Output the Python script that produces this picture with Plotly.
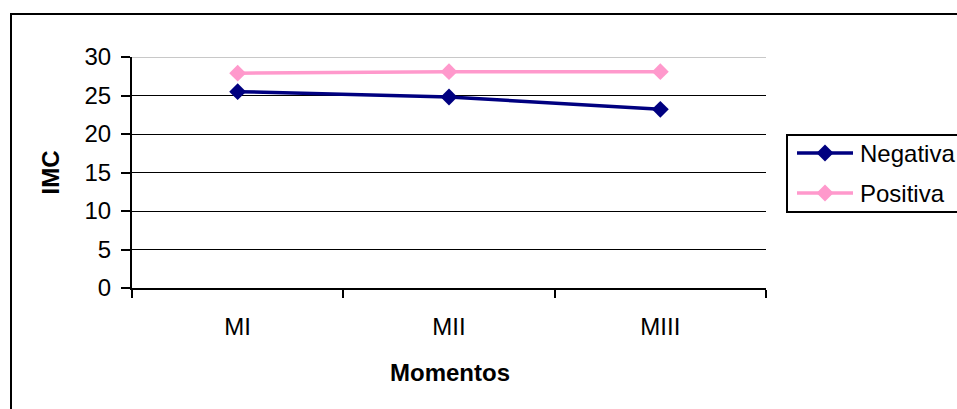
import plotly.graph_objects as go

# Body mass index (IMC) by moment, per group
momentos = ["MI", "MII", "MIII"]
negativa = [25.5, 24.8, 23.2]
positiva = [27.9, 28.1, 28.1]
series_names = ["Negativa", "Positiva"]
series_colors = ["#000080", "#FF99CC"]
y_ticks = [0, 5, 10, 15, 20, 25, 30]

W, H = 957, 409
L, R, T, B = 132, 191, 57, 121
PW, PH = W - L - R, H - T - B
FONT = "Liberation Sans, Arial, sans-serif"


def px_x(x):
    return (x - L) / PW


def px_y(y):
    return (H - B - y) / PH


fig = go.Figure()
for name, vals, col in zip(series_names, [negativa, positiva], series_colors):
    fig.add_trace(go.Scatter(
        x=momentos, y=vals, name=name, mode="lines+markers",
        line=dict(color=col, width=3.5),
        marker=dict(symbol="diamond", size=13, color=col),
        showlegend=False,
    ))

shapes = []
# outer chart frame
shapes.append(dict(type="rect", xref="paper", yref="paper",
                   x0=px_x(11), x1=px_x(962), y0=px_y(14), y1=px_y(415),
                   line=dict(color="black", width=2), fillcolor="rgba(0,0,0,0)", layer="below"))
# light top grid line at 30
shapes.append(dict(type="line", xref="paper", yref="y", x0=0, x1=1, y0=30, y1=30,
                   line=dict(color="#C8C8C8", width=2), layer="above"))

# legend box and entries
shapes.append(dict(type="rect", xref="paper", yref="paper",
                   x0=px_x(787), x1=px_x(965), y0=px_y(135), y1=px_y(212),
                   line=dict(color="black", width=2), fillcolor="white"))
annotations = []
for i, (name, col) in enumerate(zip(series_names, series_colors)):
    cy = 153 + 40 * i
    shapes.append(dict(type="line", xref="paper", yref="paper",
                       x0=px_x(797), x1=px_x(853), y0=px_y(cy), y1=px_y(cy),
                       line=dict(color=col, width=3.5)))
    cx, r = 825, 8.5
    path = "M{},{} L{},{} L{},{} L{},{} Z".format(
        px_x(cx - r), px_y(cy), px_x(cx), px_y(cy - r),
        px_x(cx + r), px_y(cy), px_x(cx), px_y(cy + r))
    shapes.append(dict(type="path", xref="paper", yref="paper", path=path,
                       fillcolor=col, line=dict(color=col, width=0)))
    annotations.append(dict(text=name, xref="paper", yref="paper",
                            x=px_x(858), y=px_y(cy), xanchor="left", yanchor="middle",
                            showarrow=False, font=dict(size=24, color="black", family=FONT)))

# axis titles
annotations.append(dict(text="<b>IMC</b>", xref="paper", yref="paper",
                        x=px_x(50), y=0.5, textangle=-90, xanchor="center", yanchor="middle",
                        showarrow=False, font=dict(size=24, color="black", family=FONT)))
annotations.append(dict(text="<b>Momentos</b>", xref="paper", yref="paper",
                        x=px_x(450), y=px_y(372), xanchor="center", yanchor="middle",
                        showarrow=False, font=dict(size=24, color="black", family=FONT)))

fig.update_layout(
    width=W, height=H,
    margin=dict(l=L, r=R, t=T, b=B, autoexpand=False),
    paper_bgcolor="white", plot_bgcolor="white",
    font=dict(family=FONT, size=24, color="black"),
    shapes=shapes, annotations=annotations,
    xaxis=dict(
        type="category", range=[-0.5, 2.5], tickson="boundaries",
        showline=True, linecolor="black", linewidth=2,
        ticks="outside", ticklen=8, tickwidth=1.5, tickcolor="black",
        showgrid=False, zeroline=False, ticklabelstandoff=16,
        tickfont=dict(size=24, color="black", family=FONT),
    ),
    yaxis=dict(
        range=[0, 30], tickvals=y_ticks,
        showline=True, linecolor="black", linewidth=2,
        ticks="outside", ticklen=9, tickwidth=1.5, tickcolor="black",
        showgrid=True, gridcolor="black", gridwidth=1, zeroline=False,
        ticklabelstandoff=5,
        tickfont=dict(size=24, color="black", family=FONT),
    ),
)

fig.write_html("out.html")
